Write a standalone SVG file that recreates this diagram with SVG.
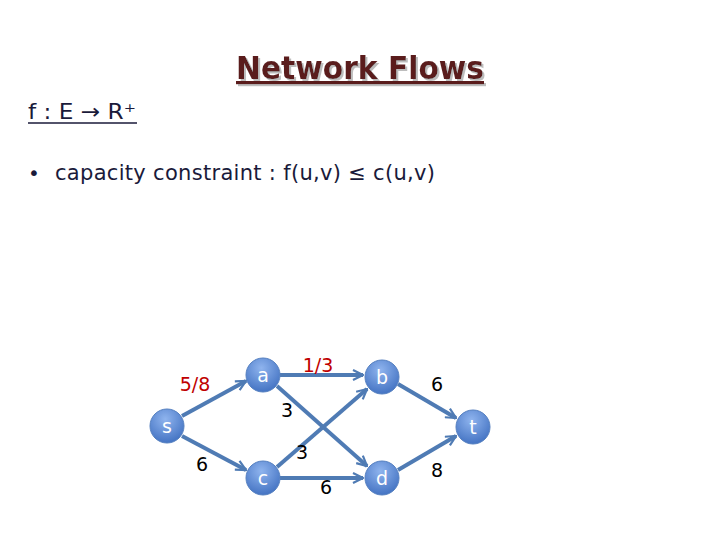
<svg xmlns="http://www.w3.org/2000/svg" width="720" height="540" viewBox="0 0 720 540">
<defs>
<radialGradient id="ng" cx="0.45" cy="0.3" r="0.75">
<stop offset="0" stop-color="#8fb4ee"/>
<stop offset="1" stop-color="#3f6fc0"/>
</radialGradient>
<filter id="sh" x="-5%" y="-20%" width="115%" height="150%">
<feOffset in="SourceAlpha" dx="2" dy="2" result="o"/>
<feFlood flood-color="#bdbdbd"/>
<feComposite in2="o" operator="in" result="s"/>
<feMerge><feMergeNode in="s"/><feMergeNode in="SourceGraphic"/></feMerge>
</filter>
<marker id="ar" viewBox="0 0 12 12" refX="11" refY="6" markerWidth="12" markerHeight="12" markerUnits="userSpaceOnUse" orient="auto">
<path d="M1,1 L11,6 L1,11" fill="none" stroke="#4f7bb4" stroke-width="2.2"/>
</marker>
<style>
.e{stroke:#4f7bb4;stroke-width:4;fill:none;marker-end:url(#ar)}
.n{fill:url(#ng);stroke:#5580c0;stroke-width:1}
.nl{font-family:"DejaVu Sans",sans-serif;font-size:19px;fill:#fff;text-anchor:middle}
.lb{font-family:"DejaVu Sans",sans-serif;font-size:19px;fill:#000;text-anchor:middle}
.lr{font-family:"DejaVu Sans",sans-serif;font-size:19px;fill:#c00000;text-anchor:middle}
</style>
</defs>
<rect width="720" height="540" fill="#fff"/>
<g id="title" filter="url(#sh)">
<text x="360" y="79" font-family="DejaVu Sans, sans-serif" font-size="32" font-weight="bold" fill="#5a1e1e" text-anchor="middle" text-decoration="underline" textLength="248" lengthAdjust="spacingAndGlyphs">Network Flows</text>
</g>
<g id="func">
<text x="28" y="119" font-family="DejaVu Sans, sans-serif" font-size="21" fill="#1a1a3a" textLength="108" lengthAdjust="spacingAndGlyphs">f : E → R⁺</text>
<line x1="28" y1="123" x2="137" y2="123" stroke="#1a1a3a" stroke-width="1.5"/>
</g>
<g id="bullet">
<text x="28" y="180" font-family="DejaVu Sans, sans-serif" font-size="20" fill="#1a1a3a">•</text>
<text x="55" y="180" font-family="DejaVu Sans, sans-serif" font-size="21" fill="#1a1a3a" textLength="380">capacity constraint : f(u,v) ≤ c(u,v)</text>
</g>
<g id="edges">
<line class="e" x1="182" y1="416" x2="246" y2="381"/>
<line class="e" x1="182" y1="436" x2="246" y2="470"/>
<line class="e" x1="280" y1="375" x2="363" y2="375"/>
<line class="e" x1="277" y1="386" x2="367" y2="466"/>
<line class="e" x1="277" y1="467" x2="367" y2="389"/>
<line class="e" x1="280" y1="478" x2="363" y2="478"/>
<line class="e" x1="398" y1="384" x2="456" y2="418"/>
<line class="e" x1="398" y1="470" x2="456" y2="436"/>
</g>
<g id="labels">
<text class="lr" x="195" y="391">5/8</text>
<text class="lr" x="318" y="372">1/3</text>
<text class="lb" x="287" y="417">3</text>
<text class="lb" x="302" y="459">3</text>
<text class="lb" x="202" y="471">6</text>
<text class="lb" x="326" y="494">6</text>
<text class="lb" x="437" y="391">6</text>
<text class="lb" x="437" y="477">8</text>
</g>
<g id="node-s"><circle class="n" cx="167" cy="426" r="17"/><text class="nl" x="167" y="433">s</text></g>
<g id="node-a"><circle class="n" cx="263" cy="375" r="17"/><text class="nl" x="263" y="382">a</text></g>
<g id="node-b"><circle class="n" cx="382" cy="377" r="17"/><text class="nl" x="382" y="384">b</text></g>
<g id="node-t"><circle class="n" cx="473" cy="427" r="17"/><text class="nl" x="473" y="434">t</text></g>
<g id="node-c"><circle class="n" cx="263" cy="478" r="17"/><text class="nl" x="263" y="485">c</text></g>
<g id="node-d"><circle class="n" cx="382" cy="478" r="17"/><text class="nl" x="382" y="485">d</text></g>
</svg>
